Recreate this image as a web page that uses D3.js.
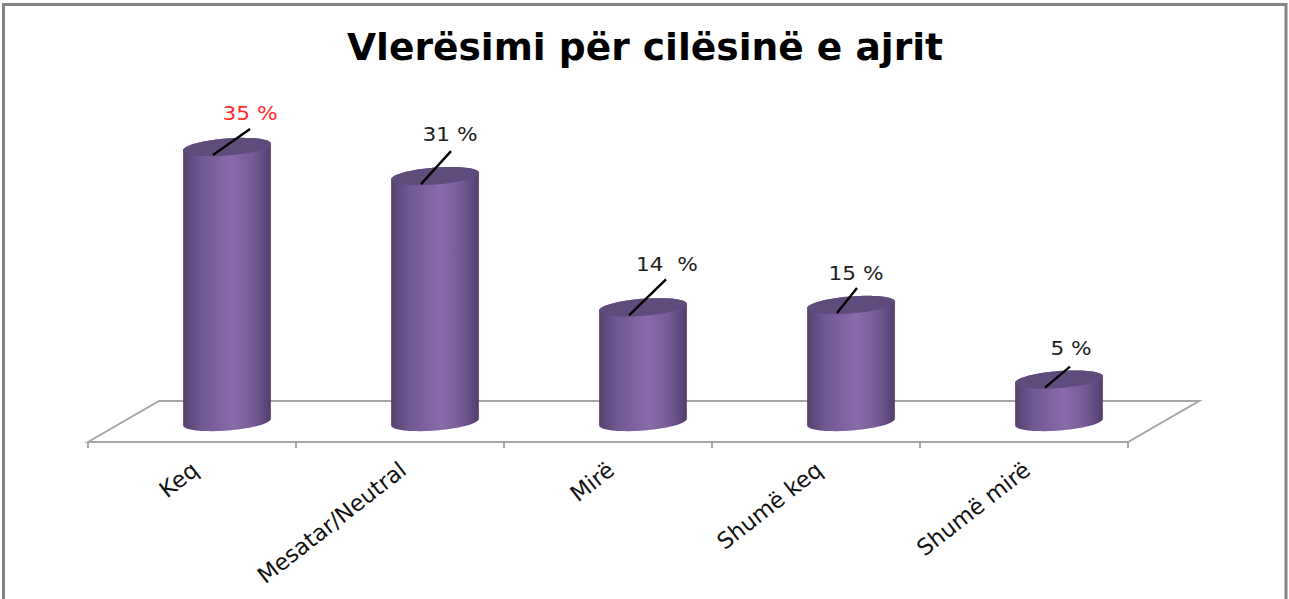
<!DOCTYPE html>
<html><head><meta charset="utf-8">
<script src="https://cdn.jsdelivr.net/npm/d3@7"></script>
<style>html,body{margin:0;padding:0;background:#fff;overflow:hidden}svg{display:block}</style>
</head><body><svg id="c" width="1289" height="599"></svg>
<script>
const categories = ["Keq","Mesatar/Neutral","Mirë","Shumë keq","Shumë mirë"];
const values = [35,31.3,14.6,14.9,5.4];
const valueLabels = ["35 %","31 %","14  %","15 %","5 %"];
const titleText = "Vlerësimi për cilësinë e ajrit";
const leaderEnd = [[37,-26],[30,-33],[37,-36],[20,-25],[25,-21]];
const labelAt = [[37,-41],[29,-49],[38,-50],[19,-39],[26,-39]];

const svg = d3.select("#c");
const F = "'DejaVu Sans',Verdana,sans-serif";
const x = d3.scaleBand().domain(categories).range([88,1128]);
const y = d3.scaleLinear().domain([0,35]).range([422,147]);
const depthX = 71, depthY = -41, axisY = 442, shiftX = 35;
const radX = 44, radY = 8.5, tilt = -4.5 * Math.PI / 180;

// frame
svg.append("path").attr("d","M3.5,599V4.5H1286V599").attr("fill","none").attr("stroke","#858585").attr("stroke-width",3);

svg.append("text").attr("x",645).attr("y",60).attr("text-anchor","middle")
  .attr("font-family",F).attr("font-weight","bold").attr("font-size",37.6).attr("fill","#000").text(titleText);

// floor
const x0=x.range()[0], x1=x.range()[1];
svg.append("path").attr("d",`M${x0},${axisY}L${x0+depthX},${axisY+depthY}H${x1+depthX}L${x1},${axisY}Z`)
  .attr("fill","none").attr("stroke","#a6a6a6").attr("stroke-width",2);
const ticks = categories.map(c=>x(c)).concat([x1]);
svg.append("g").selectAll("line").data(ticks).join("line")
  .attr("x1",d=>d).attr("x2",d=>d).attr("y1",axisY).attr("y2",axisY+6)
  .attr("stroke","#a6a6a6").attr("stroke-width",2);

// gradient
const defs = svg.append("defs");
const g = defs.append("linearGradient").attr("id","side");
[[0,"#54416f"],[0.2,"#705892"],[0.55,"#8a6aaa"],[0.8,"#745a96"],[1,"#523f6c"]].forEach(s=>
  g.append("stop").attr("offset",s[0]).attr("stop-color",s[1]));

// point on the tilted ellipse around (cx,cy)
const ell = (cx,cy,t) => {
  const a = radX*Math.cos(t), b = radY*Math.sin(t);
  return [cx + a*Math.cos(tilt) - b*Math.sin(tilt), cy + a*Math.sin(tilt) + b*Math.cos(tilt)];
};
const angles = d3.range(0,41).map(k=>k/40*Math.PI);
const line = d3.line();

const bars = svg.append("g").selectAll("g").data(categories).join("g");
bars.each(function(c,i){
  const sel = d3.select(this);
  const cx = x(c)+x.bandwidth()/2+shiftX, yTop = y(values[i]), yBase = y(0);
  const lower = angles.map(t=>ell(cx,yBase,t));
  const upper = angles.map(t=>ell(cx,yTop,Math.PI+t));
  sel.append("path").attr("d",line(lower.concat(upper))+"Z").attr("fill","url(#side)");
  const rim = d3.range(0,81).map(k=>ell(cx,yTop,k/80*2*Math.PI));
  sel.append("path").attr("d",line(rim)+"Z").attr("fill","#5f4b7c");
  sel.append("line").attr("x1",cx-14).attr("y1",yTop+8)
    .attr("x2",cx+leaderEnd[i][0]-14).attr("y2",yTop+leaderEnd[i][1]+8)
    .attr("stroke","#000").attr("stroke-width",2.4);
  sel.append("text").attr("transform",`translate(${cx+labelAt[i][0]-14},${yTop+labelAt[i][1]+14}) scale(1.14,1)`)
    .attr("text-anchor","middle").attr("font-family",F).attr("font-size",19)
    .attr("fill",i===0?"#ff2a2a":"#222").style("white-space","pre").text(valueLabels[i]);
  sel.append("text").attr("transform",`translate(${x(c)+x.bandwidth()/2+8},473) rotate(-38)`)
    .attr("text-anchor","end").attr("font-family",F).attr("font-size",22.5).attr("fill","#111").text(c);
});
</script></body></html>
